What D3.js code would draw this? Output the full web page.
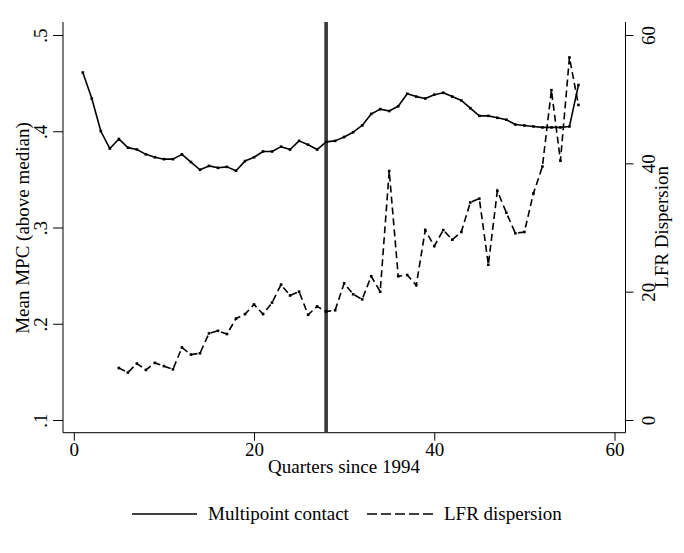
<!DOCTYPE html>
<html><head><meta charset="utf-8">
<script src="https://cdn.jsdelivr.net/npm/d3@7"></script>
<style>
html,body{margin:0;padding:0;background:#fff;}
svg{display:block;}
text{font-family:"Liberation Serif","Times New Roman",serif;fill:#000;}
</style></head>
<body>
<svg id="chart" width="684" height="553"></svg>
<script>
// ---- data ----
const quarters = d3.range(1, 57);
const mpc = [
  .461,.434,.400,.382,.392,.383,.381,.376,.373,.371,
  .371,.376,.368,.360,.364,.362,.363,.359,.369,.373,
  .379,.379,.384,.381,.390,.386,.381,.389,.390,.394,
  .399,.406,.418,.423,.421,.426,.439,.436,.434,.438,
  .440,.436,.432,.424,.416,.416,.414,.412,.407,.406,
  .405,.404,.404,.404,.405,.448
];
const lfrQuarters = d3.range(5, 57);
const lfr = [
  8.1,7.4,8.8,7.8,8.9,8.4,7.9,11.3,10.2,10.4,
  13.5,13.9,13.4,15.8,16.5,18.0,16.5,18.3,21.1,19.4,
  20.0,16.4,17.7,16.9,17.1,21.3,19.6,18.8,22.4,20.0,
  38.8,22.4,22.6,21.0,29.6,27.1,29.6,28.1,29.3,33.9,
  34.5,24.2,35.7,32.3,29.1,29.3,35.3,39.5,51.4,40.4,
  56.5,49.1
];
const xTicks = [0, 20, 40, 60];
const yLeftTicks = [.1, .2, .3, .4, .5];
const yRightTicks = [0, 20, 40, 60];
const breakQuarter = 28;
const seriesNames = ["Multipoint contact", "LFR dispersion"];
const xTitle = "Quarters since 1994";
const yLeftTitle = "Mean MPC (above median)";
const yRightTitle = "LFR Dispersion";

// ---- layout ----
const svg = d3.select("#chart");
const axisLeftX = 63, axisRightX = 625.5, axisBottomY = 432.7, axisTopY = 22;
const x = d3.scaleLinear().domain([0, 60]).range([73.8, 614.5]);
const yL = d3.scaleLinear().domain([.1, .5]).range([420, 35]);
const yR = d3.scaleLinear().domain([0, 60]).range([420, 35]);
const fs = 19;

// axes
const gx = svg.append("g").attr("transform", `translate(0,${axisBottomY})`)
  .call(d3.axisBottom(x).tickValues(xTicks).tickSize(8).tickPadding(2).tickFormat(d3.format("d")));
gx.select(".domain").remove();
gx.selectAll("text").style("font-size", fs + "px").style("font-family", "Liberation Serif");
svg.append("line").attr("x1", axisLeftX).attr("x2", axisRightX).attr("y1", axisBottomY).attr("y2", axisBottomY).attr("stroke", "#000").attr("stroke-width", 1);

const gl = svg.append("g").attr("transform", `translate(${axisLeftX},0)`)
  .call(d3.axisLeft(yL).tickValues(yLeftTicks).tickSize(10).tickFormat(d => d3.format(".1f")(d).replace(/^0/, "")));
gl.select(".domain").remove();
gl.selectAll(".tick text").attr("x", null).attr("dy", null).attr("text-anchor", "middle")
  .attr("transform", "translate(-16,0) rotate(-90)").style("font-size", fs + "px").style("font-family", "Liberation Serif");
svg.append("line").attr("x1", axisLeftX).attr("x2", axisLeftX).attr("y1", axisTopY).attr("y2", axisBottomY).attr("stroke", "#000");

const gr = svg.append("g").attr("transform", `translate(${axisRightX},0)`)
  .call(d3.axisRight(yR).tickValues(yRightTicks).tickSize(8).tickFormat(d3.format("d")));
gr.select(".domain").remove();
gr.selectAll(".tick text").attr("x", null).attr("dy", null).attr("text-anchor", "middle")
  .attr("transform", "translate(29,0) rotate(-90)").style("font-size", fs + "px").style("font-family", "Liberation Serif");
svg.append("line").attr("x1", axisRightX).attr("x2", axisRightX).attr("y1", axisTopY).attr("y2", axisBottomY).attr("stroke", "#000");

svg.selectAll(".tick line").attr("stroke", "#000");

// titles
svg.append("text").attr("x", 344).attr("y", 473).attr("text-anchor", "middle").style("font-size", fs + "px").text(xTitle);
svg.append("text").attr("transform", "translate(29,228) rotate(-90)").attr("text-anchor", "middle").style("font-size", fs + "px").text(yLeftTitle);
svg.append("text").attr("transform", "translate(668,227) rotate(-90)").attr("text-anchor", "middle").style("font-size", fs + "px").text(yRightTitle);

// vertical break line
svg.append("line").attr("x1", x(breakQuarter)).attr("x2", x(breakQuarter))
  .attr("y1", axisTopY).attr("y2", axisBottomY).attr("stroke", "#3a3a3a").attr("stroke-width", 3.6);

// series
const mpcData = quarters.map((q, i) => [q, mpc[i]]);
const lfrData = lfrQuarters.map((q, i) => [q, lfr[i]]);
const lineL = d3.line().x(d => x(d[0])).y(d => yL(d[1]));
const lineR = d3.line().x(d => x(d[0])).y(d => yR(d[1]));

svg.append("path").datum(mpcData).attr("d", lineL).attr("fill", "none").attr("stroke", "#000").attr("stroke-width", 1.6).attr("stroke-linejoin", "round");
svg.append("g").selectAll("rect").data(mpcData).join("rect")
  .attr("x", d => x(d[0]) - 1.3).attr("y", d => yL(d[1]) - 1.3).attr("width", 2.6).attr("height", 2.6).attr("fill", "#000");

svg.append("path").datum(lfrData).attr("d", lineR).attr("fill", "none").attr("stroke", "#000").attr("stroke-width", 1.6).attr("stroke-dasharray", "7,4");
svg.append("g").selectAll("rect").data(lfrData).join("rect")
  .attr("x", d => x(d[0]) - 1.3).attr("y", d => yR(d[1]) - 1.3).attr("width", 2.6).attr("height", 2.6).attr("fill", "#000");

// legend
const ly = 514;
svg.append("line").attr("x1", 132).attr("x2", 197).attr("y1", ly).attr("y2", ly).attr("stroke", "#000").attr("stroke-width", 1.6);
svg.append("text").attr("x", 208).attr("y", ly + 6).style("font-size", fs + "px").text(seriesNames[0]);
svg.append("line").attr("x1", 367).attr("x2", 434).attr("y1", ly).attr("y2", ly).attr("stroke", "#000").attr("stroke-width", 1.6).attr("stroke-dasharray", "10,4");
svg.append("text").attr("x", 444).attr("y", ly + 6).style("font-size", fs + "px").text(seriesNames[1]);
</script>
</body></html>
